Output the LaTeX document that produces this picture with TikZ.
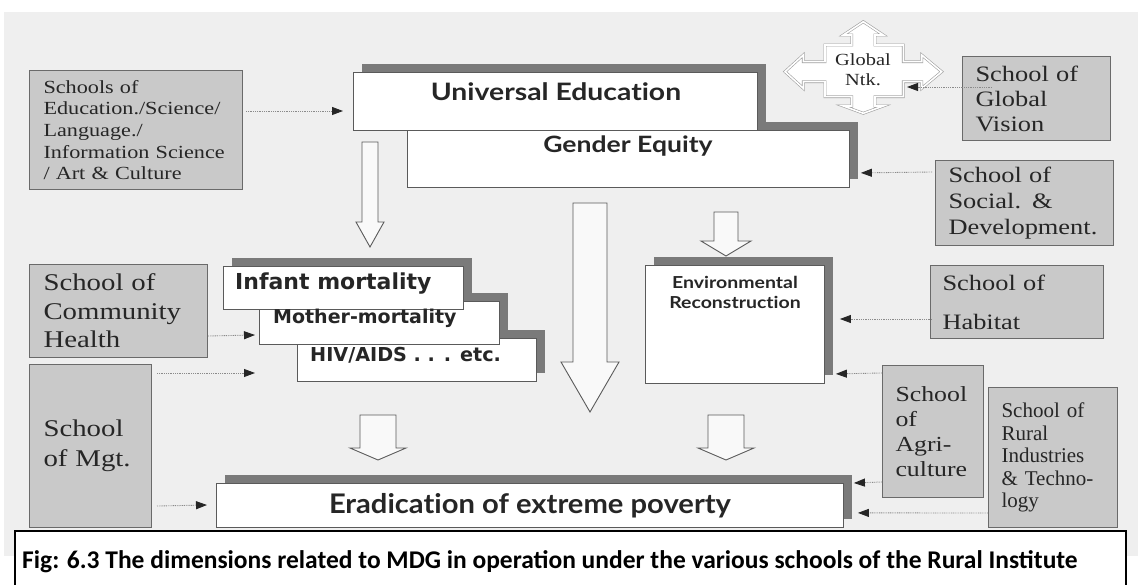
\documentclass[tikz,border=0pt]{standalone}
\usepackage{fontspec}
\usetikzlibrary{arrows.meta}
\newfontfamily\schoolfont[FakeStretch=1.2]{Liberation Serif}
\newfontfamily\ruralfont{Liberation Serif}
\newfontfamily\headfont[FakeStretch=1.18,Ligatures=NoCommon]{Lato}
\newfontfamily\basehead[FakeStretch=1.08,Ligatures=NoCommon]{Lato}
\newfontfamily\boldverd{DejaVu Sans}
\newfontfamily\capfont{Carlito}
\definecolor{scan}{HTML}{EFEFEF}
\definecolor{schoolfill}{HTML}{C9C9C9}
\definecolor{schoolline}{HTML}{6A6A6A}
\definecolor{shadowgrey}{HTML}{7A7A7A}
\definecolor{inkgrey}{HTML}{262626}
\definecolor{boxline}{HTML}{5A5A5A}
\definecolor{dotgrey}{HTML}{8A8A8A}
\tikzset{
  school/.style={draw=schoolline, line width=1pt, fill=schoolfill, anchor=north west,
    text=inkgrey, align=left, inner ysep=0pt},
  dimbox/.style={draw=boxline, line width=0.9pt, fill=white, inner sep=0pt, anchor=north west},
  headtxt/.style={text=inkgrey, inner sep=0pt, align=center},
  feed/.style={draw=dotgrey, line width=0.9pt, dash pattern=on 0.9pt off 0.9pt,
    -{Triangle[length=11pt,width=8pt,fill=inkgrey,color=inkgrey]}},
  hollow/.style={draw=boxline, line width=0.9pt, fill=white!60!scan, line join=miter},
  ntkline/.style={draw=gray!75, line width=0.6pt, double=white, double distance=1.6pt, line join=miter}
}
% white dimension panel with its dark offset shadow
\newcommand\dimpanel[5]{%
  \fill[shadowgrey] (#2+9,#3-8) rectangle (#4+9,#5-8);
  \node[dimbox, minimum width=#4-#2, minimum height=#5-#3] (#1) at (#2,#3) {};
}
\begin{document}
\begin{tikzpicture}[x=1pt,y=-1pt]
\useasboundingbox (0,0) rectangle (1138,585);
\fill[white] (0,0) rectangle (1138,585);
\fill[scan] (4,12) rectangle (1138,556);

% ---- school boxes ----
\node[school, minimum width=213, minimum height=119, text width=185, inner xsep=14,
  font=\schoolfont\fontsize{18.5}{21.7}\selectfont] (edu) at (29,70)
  {Schools of\\Education./Science/\\Language./\\Information Science\\/ Art \& Culture};
\node[school, minimum width=178, minimum height=93, text width=150, inner xsep=14,
  font=\schoolfont\fontsize{24}{28.5}\selectfont] (comm) at (29,264)
  {School of\\Community\\Health};
\node[school, minimum width=122, minimum height=163, text width=94, inner xsep=14,
  font=\schoolfont\fontsize{24}{30}\selectfont] (mgt) at (29,364)
  {School\\of Mgt.};
\node[school, minimum width=148, minimum height=84, text width=122, inner xsep=13,
  font=\schoolfont\fontsize{22}{25}\selectfont] (glob) at (962,56)
  {School of\\Global\\Vision};
\node[school, minimum width=178, minimum height=85, text width=152, inner xsep=13,
  font=\schoolfont\fontsize{22}{26}\selectfont] (soc) at (935,160)
  {School of\\Social. \&\\Development.};
\node[school, minimum width=173, minimum height=73, text width=149, inner xsep=12,
  font=\schoolfont\fontsize{22}{39}\selectfont] (hab) at (930,265)
  {School of\\Habitat};
\node[school, minimum width=101, minimum height=132, text width=75, inner xsep=13,
  font=\schoolfont\fontsize{21.5}{25}\selectfont] (agri) at (882,365)
  {School\\of\\Agri-\\culture};
\node[school, minimum width=129, minimum height=140, text width=103, inner xsep=13,
  font=\ruralfont\fontsize{21}{22.5}\selectfont] (rural) at (988,387)
  {School of\\Rural\\Industries\\\& Techno-\\logy};

% ---- dimension panels ----
\dimpanel{ge}{407}{130}{849}{187}
\dimpanel{ue}{353}{72}{757}{130}
\node[headtxt, font=\headfont\bfseries\fontsize{24}{26}\selectfont] (ueT) at (556,92) {Universal Education};
\node[headtxt, font=\headfont\bfseries\fontsize{22.5}{24}\selectfont] (geT) at (628,146) {Gender Equity};

\dimpanel{env}{645}{265}{824}{383}
\node[headtxt, font=\headfont\bfseries\fontsize{16.5}{20}\selectfont] (envT) at (735,292)
  {Environmental\\Reconstruction};

\dimpanel{hiv}{297}{338}{536}{381}
\dimpanel{mot}{259}{301}{499}{344}
\dimpanel{inf}{223}{266}{463}{309}
\node[headtxt, anchor=west, font=\boldverd\bfseries\fontsize{22}{24}\selectfont] (infT) at (235,284) {Infant mortality};
\node[headtxt, anchor=west, font=\boldverd\bfseries\fontsize{19}{20}\selectfont] (motT) at (273,318) {Mother-mortality};
\node[headtxt, anchor=west, font=\boldverd\bfseries\fontsize{19.2}{20}\selectfont] (hivT) at (310,355) {HIV/AIDS . . . etc.};

\dimpanel{era}{216}{483}{843}{527}
\node[headtxt, font=\basehead\bfseries\fontsize{27}{30}\selectfont] (eraT) at (530,506) {Eradication of extreme poverty};

% ---- global network cross ----
\draw[ntkline, fill=white] (863.3,21.7) -- (883.3,35) -- (875,35) -- (875,45) -- (903.3,45)
  -- (903.3,61.7) -- (921.7,61.7) -- (921.7,55) -- (941.7,71.7) -- (921.7,88.3) -- (921.7,81.7)
  -- (903.3,81.7) -- (903.3,96.7) -- (875,96.7) -- (875,106) -- (883.3,106) -- (863.3,113.3)
  -- (843.3,106) -- (851.7,106) -- (851.7,96.7) -- (825,96.7) -- (825,81.7) -- (803.3,81.7)
  -- (803.3,88.3) -- (785,71.7) -- (803.3,55) -- (803.3,61.7) -- (825,61.7) -- (825,45)
  -- (851.7,45) -- (851.7,35) -- (843.3,35) -- cycle;
\node[headtxt, font=\schoolfont\fontsize{17}{20}\selectfont] (ntk) at (863,70) {Global\\Ntk.};

% ---- hollow flow arrows ----
\draw[hollow] (362,142) -- (378,142) -- (378,222) -- (384,222) -- (370,247) -- (356,222) -- (362,222) -- cycle;
\draw[hollow] (573,203) -- (607,203) -- (607,362) -- (619,362) -- (590,412) -- (561,362) -- (573,362) -- cycle;
\draw[hollow] (714,212) -- (738,212) -- (738,241) -- (751,241) -- (726,256) -- (701,241) -- (714,241) -- cycle;
\draw[hollow] (360,415) -- (396,415) -- (396,448) -- (406,448) -- (378,460) -- (350,448) -- (360,448) -- cycle;
\draw[hollow] (708,415) -- (744,415) -- (744,448) -- (754,448) -- (726,460) -- (698,448) -- (708,448) -- cycle;

% ---- dotted feeder arrows ----
\draw[feed] ([shift={(3,41)}]edu.north east) -- ([shift={(-10,39)}]ue.north west);
\draw[feed] ([shift={(30,31)}]glob.north west) -- ([shift={(44,17)}]ntk.center);
\draw[feed] ([shift={(-3,12)}]soc.north west) -- ([shift={(11,-15)}]ge.south east);
\draw[feed] ([shift={(2,54)}]hab.north west) -- ([shift={(15,54)}]env.north east);
\draw[feed] ([shift={(0,8)}]agri.north west) -- ([shift={(11,-10)}]env.south east);
\draw[feed] ([shift={(0,-16)}]agri.south west) -- ([shift={(10,0)}]era.north east);
\draw[feed] ([shift={(0,-15)}]rural.south west) -- ([shift={(14,-15)}]era.south east);
\draw[feed] ([shift={(0,-22)}]comm.south east) -- ([shift={(-4,34)}]mot.north west);
\draw[feed] ([shift={(5,9)}]mgt.north east) -- ([shift={(-42,35)}]hiv.north west);
\draw[feed] ([shift={(5,-22)}]mgt.south east) -- ([shift={(-9,22)}]era.north west);

% ---- caption ----
\node[draw=black, line width=1.5pt, fill=white, anchor=north west, minimum width=1111,
  minimum height=62, inner sep=0pt] (cap) at (14,530) {};
\node[anchor=west, inner sep=0pt, font=\capfont\bfseries\fontsize{25.5}{28}\selectfont] (capT)
  at (22,562) {Fig: 6.3 The dimensions related to MDG in operation under the various schools of the Rural Institute};
\end{tikzpicture}
\end{document}
